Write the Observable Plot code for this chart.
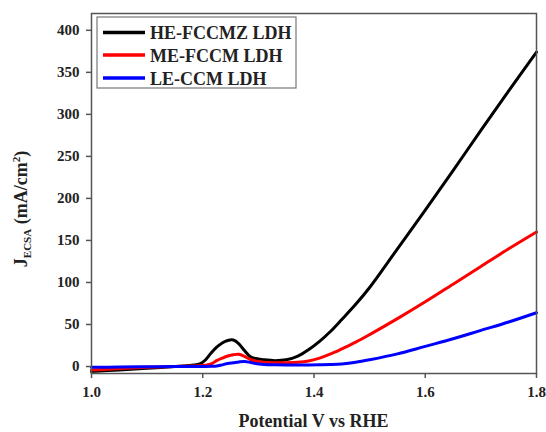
<!DOCTYPE html>
<html>
<head>
<meta charset="utf-8">
<script src="https://cdn.jsdelivr.net/npm/d3@7"></script>
<script src="https://cdn.jsdelivr.net/npm/@observablehq/plot@0.6"></script>
<style>
  html, body { margin: 0; padding: 0; background: #fff; }
</style>
</head>
<body>
<script>
// Potential (V vs RHE)
const potential = [1.00, 1.05, 1.10, 1.15, 1.18, 1.195, 1.205, 1.215, 1.225, 1.235, 1.245, 1.255, 1.265, 1.275, 1.285, 1.295, 1.31, 1.33, 1.35, 1.37, 1.39, 1.41, 1.43, 1.45, 1.475, 1.50, 1.55, 1.60, 1.65, 1.70, 1.75, 1.80];
// J_ECSA (mA/cm^2)
const heFCCMZ = [-6, -4, -2, 0, 1.5, 3, 8, 16, 23, 28, 31, 31.5, 27, 19, 12, 9.5, 8, 7, 8, 12, 20, 30, 42, 56, 74, 94, 140, 186, 233, 281, 328, 374];
const meFCCM  = [-4, -2.5, -1, 0, 0.5, 1, 1.5, 3, 7, 10, 12.5, 14, 14.5, 12, 8.5, 6.5, 5, 4.5, 4.5, 5, 6.5, 10, 15, 21, 29, 38, 57, 77, 98, 119, 140, 160];
const leCCM   = [-1, -0.7, -0.3, 0, 0, 0, 0, 0.2, 0.5, 2, 3.5, 4.5, 5.5, 6, 5, 3.5, 2.5, 2, 1.8, 1.8, 1.8, 2, 2.3, 3, 5, 8, 15, 24, 33, 43, 53, 64];

const seriesNames = ["HE-FCCMZ LDH", "ME-FCCM LDH", "LE-CCM LDH"];
const seriesColors = ["#000000", "#ff0000", "#0000ff"];
const seriesValues = [heFCCMZ, meFCCM, leCCM];

const xTicks = [1.0, 1.2, 1.4, 1.6, 1.8];
const yTicks = [0, 50, 100, 150, 200, 250, 300, 350, 400];

const data = [];
seriesNames.forEach((name, i) => {
  potential.forEach((v, k) => data.push({series: name, v, j: seriesValues[i][k]}));
});

const font = "'Liberation Serif', 'Times New Roman', serif";

const chart = Plot.plot({
  width: 546,
  height: 432,
  marginLeft: 91,
  marginRight: 10,
  marginTop: 13,
  marginBottom: 59,
  style: {fontFamily: font, fontSize: "15px", fontWeight: "bold", color: "#222", background: "#fff", overflow: "visible"},
  x: {domain: [1.0, 1.8], label: null},
  y: {domain: [-8.3, 420], label: null},
  color: {domain: seriesNames, range: seriesColors},
  marks: [
    Plot.line(data, {x: "v", y: "j", z: "series", stroke: "series", strokeWidth: 3, curve: "catmull-rom"}),
    Plot.frame({stroke: "#555", strokeWidth: 1.5}),
    Plot.axisX({ticks: xTicks, tickSize: 5, tickPadding: 8, tickFormat: d3.format(".1f"), stroke: "#555", strokeWidth: 1.5, label: null}),
    Plot.axisY({ticks: yTicks, tickSize: 5, tickPadding: 7, stroke: "#555", strokeWidth: 1.5, label: null})
  ]
});

const svg = d3.select(chart);

// X axis title
svg.append("text")
  .attr("x", 313.5).attr("y", 427)
  .attr("text-anchor", "middle")
  .attr("font-family", font).attr("font-weight", "bold").attr("font-size", 18)
  .attr("fill", "#222")
  .text("Potential V vs RHE");

// Y axis title with subscript and superscript
const yt = svg.append("text")
  .attr("transform", "translate(27,209) rotate(-90)")
  .attr("text-anchor", "middle")
  .attr("font-family", font).attr("font-weight", "bold").attr("font-size", 18)
  .attr("fill", "#222");
yt.append("tspan").text("J");
yt.append("tspan").attr("font-size", 11).attr("dy", 4).text("ECSA");
yt.append("tspan").attr("dy", -4).text(" (mA/cm");
yt.append("tspan").attr("font-size", 11).attr("dy", -7).text("2");
yt.append("tspan").attr("dy", 7).text(")");

// Legend box
const lg = svg.append("g");
lg.append("rect")
  .attr("x", 97).attr("y", 17).attr("width", 199).attr("height", 71)
  .attr("fill", "#fff").attr("stroke", "#777").attr("stroke-width", 1.2);
const rowsY = [32.5, 55, 78];
seriesNames.forEach((name, i) => {
  lg.append("line")
    .attr("x1", 103).attr("x2", 145).attr("y1", rowsY[i]).attr("y2", rowsY[i])
    .attr("stroke", seriesColors[i]).attr("stroke-width", 3.5);
  lg.append("text")
    .attr("x", 150).attr("y", rowsY[i] + 6.5)
    .attr("text-anchor", "start")
    .attr("font-family", font).attr("font-weight", "bold").attr("font-size", 18)
    .attr("fill", "#222")
    .text(name);
});

document.body.append(chart);
</script>
</body>
</html>
